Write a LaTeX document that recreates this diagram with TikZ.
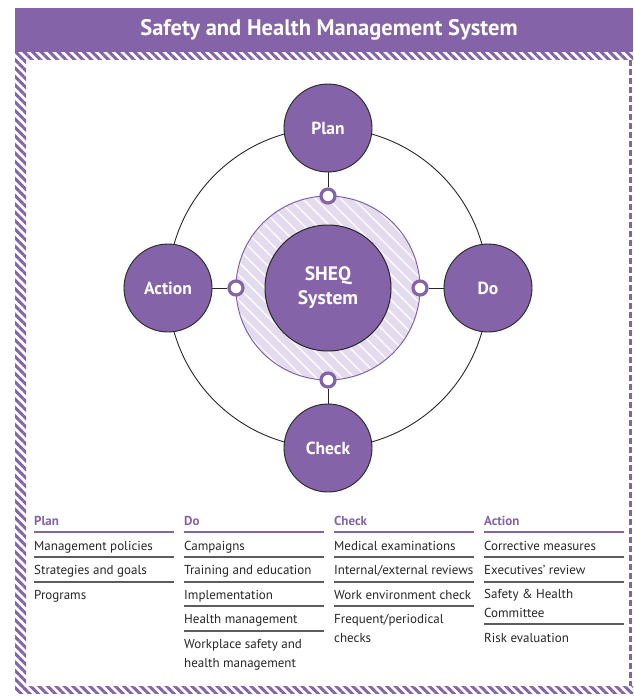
\documentclass[tikz,border=0pt]{standalone}
\usepackage{fontspec}
\setmainfont{PT Sans}
\usetikzlibrary{patterns.meta}
\definecolor{sheqpurple}{HTML}{8463A8}
\definecolor{sheqlight}{HTML}{E4DCEE}
\definecolor{rulegray}{HTML}{5C5C5C}
\begin{document}
\begin{tikzpicture}[x=1pt,y=-1pt,
  every node/.style={font=\fontsize{13}{18.5}\selectfont},
  phase/.style={circle,draw=black!85,line width=0.9pt,fill=sheqpurple,minimum size=88pt,inner sep=0pt,text=white,font=\fontsize{17.5}{20}\selectfont\bfseries},
  joint/.style={circle,draw=sheqpurple,line width=3.2pt,fill=white,minimum size=14pt,inner sep=0pt},
  head/.style={anchor=base west,inner sep=0pt,text=sheqpurple,font=\fontsize{13}{18.5}\selectfont\bfseries},
  item/.style={anchor=base west,inner sep=0pt,align=left,text=black!85},
  stripes/.style={pattern={Lines[angle=-45,distance=6pt,line width=3pt]},pattern color=sheqpurple}]
\useasboundingbox (0,0) rectangle (633,698);
% header and border
\fill[sheqpurple] (15,8) rectangle (633,52);
\node[text=white,font=\fontsize{22.5}{26}\selectfont\bfseries] (title) at (329,30) {Safety and Health Management System};
\fill[stripes] (15,52) rectangle (633,60);
\fill[stripes] (15,60) rectangle (26,693);
\fill[stripes] (26,686) rectangle (633,693);
\draw[sheqpurple,line width=3pt,dash pattern=on 6pt off 3pt] (630,60) -- (630,686);
% cycle
\draw[black!85,line width=0.9pt] (328,288) circle (160);
\fill[sheqlight] (328,288) circle (92);
\fill[pattern={Lines[angle=-45,distance=9pt,line width=1.3pt]},pattern color=white] (328,288) circle (92);
\draw[sheqpurple,line width=1pt] (328,288) circle (92);
\node[circle,draw=black!85,line width=1pt,fill=sheqpurple,minimum size=126pt,inner sep=0pt,align=center,text=white,font=\fontsize{19.5}{24}\selectfont\bfseries] (sheq) at (328,288) {SHEQ\\System};
\node[phase] (plan) at (328,128) {Plan};
\node[phase] (do) at (488,288) {Do};
\node[phase] (check) at (328,448) {Check};
\node[phase] (action) at (168,288) {Action};
\node[joint] (jplan) at (328,196) {};
\node[joint] (jdo) at (420,288) {};
\node[joint] (jcheck) at (328,380) {};
\node[joint] (jaction) at (236,288) {};
\draw[black!85,line width=0.9pt] (plan) -- (jplan);
\draw[black!85,line width=0.9pt] (do) -- (jdo);
\draw[black!85,line width=0.9pt] (check) -- (jcheck);
\draw[black!85,line width=0.9pt] (action) -- (jaction);
% table
\node[head] (hplan) at (34,525) {Plan};
\node[head] (hdo) at (184,525) {Do};
\node[head] (hcheck) at (334,525) {Check};
\node[head] (haction) at (484,525) {Action};
\foreach \x in {34,184,334,484}
  \draw[sheqpurple,line width=1.5pt] (\x,532) -- ++(140,0);
\node[item] (plan1) at (34,550) {Management policies};
\node[item] (plan2) at (34,574) {Strategies and goals};
\node[item] (plan3) at (34,599) {Programs};
\foreach \y in {557,582}
  \draw[rulegray,line width=1.3pt] (34,\y) -- ++(140,0);
\node[item] (do1) at (184,550) {Campaigns};
\node[item] (do2) at (184,574) {Training and education};
\node[item] (do3) at (184,599) {Implementation};
\node[item] (do4) at (184,623) {Health management};
\node[item] (do5) at (184,667) {Workplace safety and\\health management};
\foreach \y in {557,582,606,631}
  \draw[rulegray,line width=1.3pt] (184,\y) -- ++(140,0);
\node[item] (check1) at (334,550) {Medical examinations};
\node[item] (check2) at (334,574) {Internal/external reviews};
\node[item] (check3) at (334,599) {Work environment check};
\node[item] (check4) at (334,642) {Frequent/periodical\\checks};
\foreach \y in {557,582,606}
  \draw[rulegray,line width=1.3pt] (334,\y) -- ++(140,0);
\node[item] (action1) at (484,550) {Corrective measures};
\node[item] (action2) at (484,574) {Executives' review};
\node[item] (action3) at (484,617) {Safety \& Health\\Committee};
\node[item] (action4) at (484,642) {Risk evaluation};
\foreach \y in {557,582,624}
  \draw[rulegray,line width=1.3pt] (484,\y) -- ++(140,0);
\end{tikzpicture}
\end{document}
